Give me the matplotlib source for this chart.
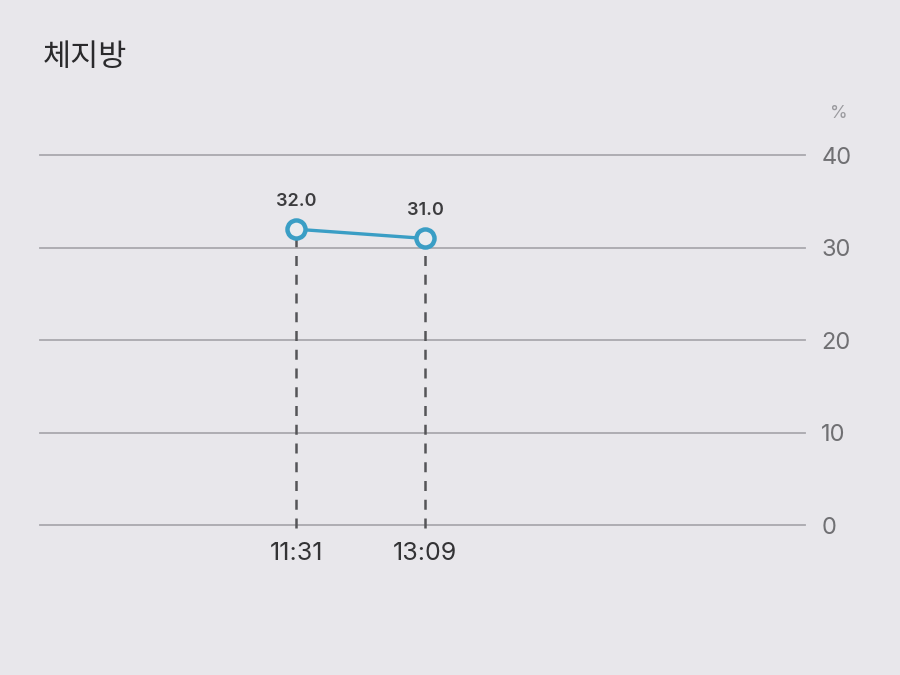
import matplotlib.pyplot as plt

plt.rcParams['font.family'] = ['Noto Sans CJK KR', 'DejaVu Sans']

# data
times = ['11:31', '13:09']
fat_pct = [32.0, 31.0]
y_ticks = [0, 10, 20, 30, 40]


def to_minutes(t):
    h, m = t.split(':')
    return int(h) * 60 + int(m)


x_vals = [to_minutes(t) for t in times]

bg = '#e8e7eb'
num_font = ['Inter', 'DejaVu Sans']
fig = plt.figure(figsize=(9, 6.75), dpi=100, facecolor=bg)
ax = fig.add_axes([0.044, 0.222, 0.850, 0.548], facecolor=bg)

ax.set_xlim(496, 1077)
ax.set_ylim(0, 40)

# horizontal grid
for y in y_ticks:
    ax.axhline(y, color='#a9a8ad', lw=1.3, zorder=1, clip_on=False)

# dashed drop lines
for x, y in zip(x_vals, fat_pct):
    ax.plot([x, x], [-0.3, y], ls=(0, (4, 3.5)), color='#555558', lw=1.8, zorder=2, clip_on=False)

# the series
ax.plot(x_vals, fat_pct, color='#3a9ec5', lw=2.4, marker='o', ms=13,
        mfc='#e9ecef', mec='#3a9ec5', mew=3.2, zorder=3)

for x, y in zip(x_vals, fat_pct):
    ax.annotate(f'{y:.1f}', (x, y), xytext=(0, 14), textcoords='offset points',
                ha='center', va='bottom', fontsize=13, fontweight='semibold',
                color='#3c3c3e', family=num_font)

# axes styling
for s in ax.spines.values():
    s.set_visible(False)
ax.yaxis.tick_right()
ax.set_yticks(y_ticks)
ax.tick_params(axis='y', length=0, pad=12, labelsize=17, labelcolor='#707073')
ax.set_xticks(x_vals)
ax.set_xticklabels(times)
ax.tick_params(axis='x', length=0, pad=12, labelsize=18, labelcolor='#333335')
for lab in ax.get_xticklabels() + ax.get_yticklabels():
    lab.set_family(num_font)

fig.text(0.932, 0.825, '%', fontsize=13, color='#9a9a9e', ha='center', family=num_font)
fig.text(0.048, 0.915, '체지방', fontsize=22, color='#2a2a2c', ha='left', va='center')

fig.savefig('out.png', dpi=100, facecolor=bg)
